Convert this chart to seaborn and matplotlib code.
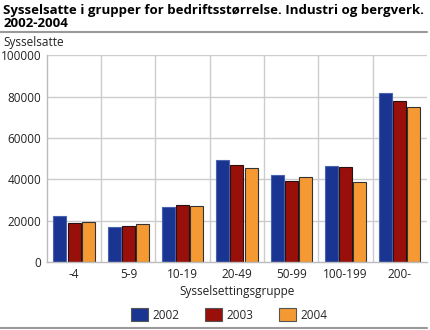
import matplotlib
matplotlib.use("Agg")
import matplotlib.pyplot as plt
import seaborn as sns
import pandas as pd

groups = ["-4", "5-9", "10-19", "20-49", "50-99", "100-199", "200-"]
years = ["2002", "2003", "2004"]
v2002 = [22300, 17100, 26600, 49400, 42300, 46600, 81700]
v2003 = [19000, 17400, 27600, 47100, 39200, 46200, 77800]
v2004 = [19500, 18200, 27000, 45700, 41200, 38600, 74900]
colors = ["#1a3591", "#990f0a", "#f59a33"]
edges = ["#4a63b0", "#2a1010", "#333333"]

df = pd.DataFrame({
    "gruppe": groups * 3,
    "år": [y for y in years for _ in groups],
    "verdi": v2002 + v2003 + v2004,
})

sns.set_theme(style="whitegrid")
plt.rcParams["font.family"] = ["Open Sans", "DejaVu Sans"]

fig = plt.figure(figsize=(4.3, 3.3), dpi=100)
ax = fig.add_axes([0.109, 0.206, 0.884, 0.626])

sns.barplot(data=df, x="gruppe", y="verdi", hue="år", palette=colors,
            order=groups, hue_order=years, width=0.78, ax=ax, saturation=1,
            edgecolor="#333333", linewidth=0.8, legend=True)

# narrow each bar slightly so the three years sit apart, and set edge per year
for i, container in enumerate(ax.containers):
    for p in container:
        w = p.get_width()
        p.set_x(p.get_x() + w * 0.04)
        p.set_width(w * 0.92)
        p.set_edgecolor(edges[i])

ax.set_ylim(0, 100000)
ax.set_xlim(-0.5, len(groups) - 0.5)
ax.set_yticks(range(0, 100001, 20000))
ax.set_yticklabels([str(v) for v in range(0, 100001, 20000)], fontsize=8.5, color="#222222")
ax.tick_params(axis="x", labelsize=8.5, colors="#222222", length=0, pad=4)
ax.tick_params(axis="y", length=0, pad=4)

# grid: horizontal at each tick, vertical between groups
ax.grid(False)
for yv in range(20000, 100001, 20000):
    ax.axhline(yv, color="#cccccc", linewidth=1, zorder=0)
for xv in range(len(groups) - 1):
    ax.axvline(xv + 0.5, color="#cccccc", linewidth=1, zorder=0)
ax.set_axisbelow(True)
for side in ["top", "right"]:
    ax.spines[side].set_visible(False)
ax.spines["left"].set_color("#bbbbbb")
ax.spines["bottom"].set_color("#bbbbbb")
ax.spines["left"].set_linewidth(1)
ax.spines["bottom"].set_linewidth(1)

ax.set_xlabel("Sysselsettingsgruppe", fontsize=8.5, color="#222222", labelpad=3)
ax.set_ylabel("")

leg = ax.legend(loc="upper center", bbox_to_anchor=(0.48, -0.17), ncol=3,
                frameon=False, fontsize=8.5, handlelength=1.4, handleheight=1.4,
                columnspacing=2.2, handletextpad=0.4)
for h in leg.legend_handles:
    h.set_edgecolor("#555555")
    h.set_linewidth(0.8)

title_kw = dict(fontsize=9.5, fontweight="bold", va="baseline", ha="left", color="#000000")
fig.text(0.008, 0.958, "Sysselsatte i grupper for bedriftsstørrelse. Industri og bergverk.", **title_kw)
fig.text(0.008, 0.917, "2002-2004", **title_kw)
fig.add_artist(plt.Line2D([0.0, 0.993], [0.903, 0.903], transform=fig.transFigure,
                          color="#999999", linewidth=1.5))
fig.text(0.008, 0.872, "Sysselsatte", fontsize=8.5, va="center", ha="left", color="#222222")
fig.add_artist(plt.Line2D([0.0, 0.993], [0.006, 0.006], transform=fig.transFigure,
                          color="#999999", linewidth=1.5))

fig.savefig("out.png", dpi=100)
